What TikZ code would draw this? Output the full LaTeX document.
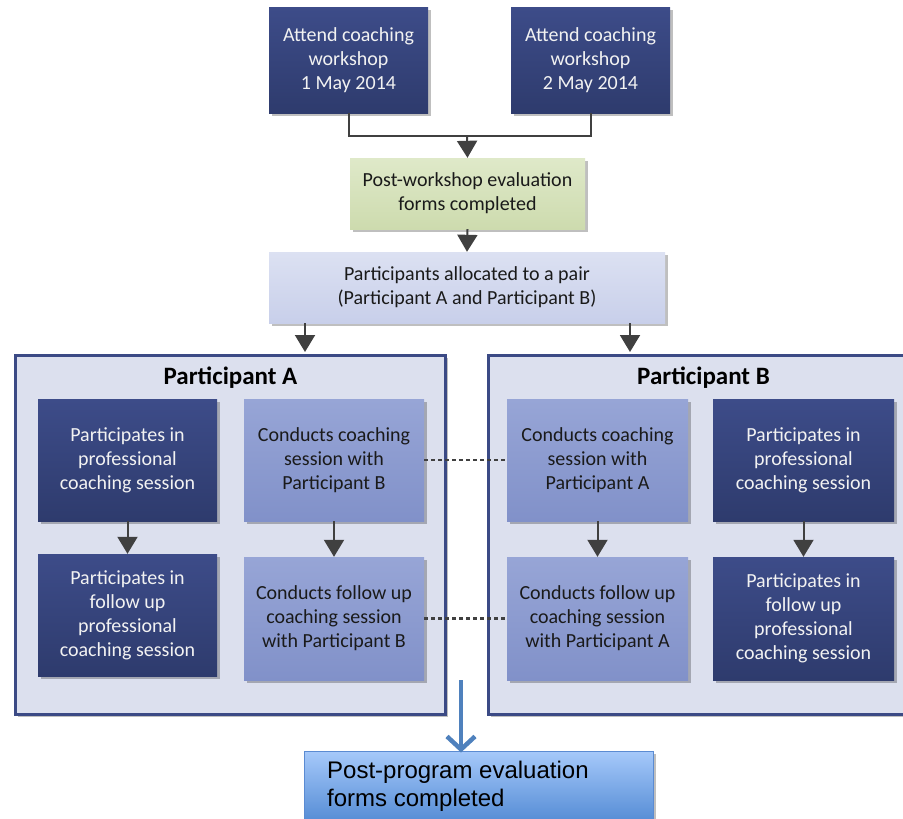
\documentclass[tikz,border=0pt]{standalone}
\usepackage{fontspec}
\setmainfont{Carlito}
\newfontfamily\arialfont{Liberation Sans}
\usetikzlibrary{arrows.meta,shadows}
\definecolor{navytop}{HTML}{3D4C89}
\definecolor{navybot}{HTML}{2E3B6D}
\definecolor{peritop}{HTML}{97A5D6}
\definecolor{peribot}{HTML}{8191C9}
\definecolor{greentop}{HTML}{DFE9C9}
\definecolor{greenbot}{HTML}{CDDBAE}
\definecolor{lavtop}{HTML}{DCE1F2}
\definecolor{lavbot}{HTML}{C8CFEA}
\definecolor{panelfill}{HTML}{DCE0EE}
\definecolor{panelline}{HTML}{3B4A85}
\definecolor{arrgray}{HTML}{404040}
\definecolor{steel}{HTML}{4F81BD}
\definecolor{finaltop}{HTML}{A6C9FA}
\definecolor{finalbot}{HTML}{4A84D0}
\definecolor{finalline}{HTML}{5B8BD2}
\definecolor{whitish}{HTML}{F2F2F2}
\definecolor{darktext}{HTML}{1A1A1A}
\begin{document}
\begin{tikzpicture}[x=1pt,y=-1pt,
  shad/.style={drop shadow={shadow xshift=2.5pt,shadow yshift=-2.5pt,opacity=.25,fill=black}},
  darkbox/.style={shad,rectangle,top color=navytop,bottom color=navybot,draw=none,
    text=whitish,align=center,font=\fontsize{20}{24}\selectfont,inner sep=0pt},
  lightbox/.style={shad,rectangle,top color=peritop,bottom color=peribot,draw=none,
    text=darktext,align=center,font=\fontsize{20}{24}\selectfont,inner sep=0pt},
  greenbox/.style={shad,rectangle,top color=greentop,bottom color=greenbot,draw=none,
    text=darktext,align=center,font=\fontsize{20}{24}\selectfont,inner sep=0pt},
  lavbox/.style={shad,rectangle,top color=lavtop,bottom color=lavbot,draw=none,
    text=darktext,align=center,font=\fontsize{20}{24}\selectfont,inner sep=0pt},
  panel/.style={shad,rectangle,fill=panelfill,draw=panelline,line width=3pt,inner sep=0pt},
  paneltitle/.style={font=\bfseries\fontsize{25}{30}\selectfont,text=black,inner sep=0pt},
  arr/.style={draw=arrgray,line width=2pt,-{Triangle[length=17pt,width=20pt]}},
  joinline/.style={draw=arrgray,line width=2pt},
  dashline/.style={draw=arrgray,line width=2.2pt,dash pattern=on 4pt off 3pt},
  bluearr/.style={draw=steel,line width=4.5pt,-{Straight Barb[length=13pt,width=28pt]}},
  finalbox/.style={shad,rectangle,top color=finaltop,bottom color=finalbot,draw=finalline,line width=1pt,inner sep=0pt},
  finaltext/.style={font=\arialfont\fontsize{24}{28}\selectfont,text=black,align=left,inner sep=0pt}
]
\useasboundingbox (0,0) rectangle (903,819);
\clip (0,0) rectangle (903,819);

% top workshops
\node[darkbox,minimum width=159pt,minimum height=106pt] (t1) at (348.5,60) {Attend coaching\\workshop\\1 May 2014};
\node[darkbox,minimum width=159pt,minimum height=106pt] (t2) at (590.5,60) {Attend coaching\\workshop\\2 May 2014};

\node[greenbox,minimum width=235pt,minimum height=71pt] (green) at (467.5,193.5) {Post-workshop evaluation\\forms completed};

\node[lavbox,minimum width=396pt,minimum height=71pt] (alloc) at (467,287.5) {Participants allocated to a pair\\(Participant A and Participant B)};

\coordinate (join) at (467,136);
\draw[joinline] (t1.south) |- (join) -| (t2.south);
\draw[arr] (join) -- (green.north);
\draw[arr] (green.south) -- (alloc.north);

% panels
\node[panel,minimum width=430pt,minimum height=359pt] (pa) at (230.5,535) {};
\node[panel,minimum width=442pt,minimum height=359pt] (pb) at (709.5,535) {};
\node[paneltitle] (pat) at (230.5,378) {Participant A};
\node[paneltitle] (pbt) at (703.5,378) {Participant B};

\coordinate (xa) at (305,0);
\coordinate (xb) at (630,0);
\draw[arr,shorten >=2pt] (alloc.south -| xa) -- (pa.north -| xa);
\draw[arr] (alloc.south -| xb) -- ([yshift=2pt]pb.north -| xb);

% participant A boxes
\node[darkbox,minimum width=179pt,minimum height=122pt] (a1) at (127.5,460) {Participates in\\professional\\coaching session};
\node[lightbox,minimum width=180pt,minimum height=122pt] (a2) at (334,460) {Conducts coaching\\session with\\Participant B};
\node[darkbox,minimum width=179pt,minimum height=122pt] (a3) at (127.5,615) {Participates in\\follow up\\professional\\coaching session};
\node[lightbox,minimum width=180pt,minimum height=123pt] (a4) at (334,618.5) {Conducts follow up\\coaching session\\with Participant B};

% participant B boxes
\node[lightbox,minimum width=181pt,minimum height=122pt] (b1) at (597.5,460) {Conducts coaching\\session with\\Participant A};
\node[darkbox,minimum width=181pt,minimum height=122pt] (b2) at (803.5,460) {Participates in\\professional\\coaching session};
\node[lightbox,minimum width=181pt,minimum height=123pt] (b3) at (597.5,618.5) {Conducts follow up\\coaching session\\with Participant A};
\node[darkbox,minimum width=181pt,minimum height=123pt] (b4) at (803.5,618.5) {Participates in\\follow up\\professional\\coaching session};

\draw[arr] (a1.south) -- (a3.north);
\draw[arr] (a2.south) -- (a4.north);
\draw[arr] (b1.south) -- (b3.north);
\draw[arr] (b2.south) -- (b4.north);

\draw[dashline] (a2.east) -- (b1.west);
\draw[dashline] (a4.east) -- (b3.west);

% final
\node[finalbox,minimum width=349pt,minimum height=80pt] (final) at (478.5,791) {};
\node[finaltext,anchor=west] (finaltxt) at (327,786) {Post-program evaluation\\forms completed};
\coordinate (bs) at (461,680);
\draw[bluearr] (bs) -- ([yshift=-2pt]final.north -| bs);
\end{tikzpicture}
\end{document}
